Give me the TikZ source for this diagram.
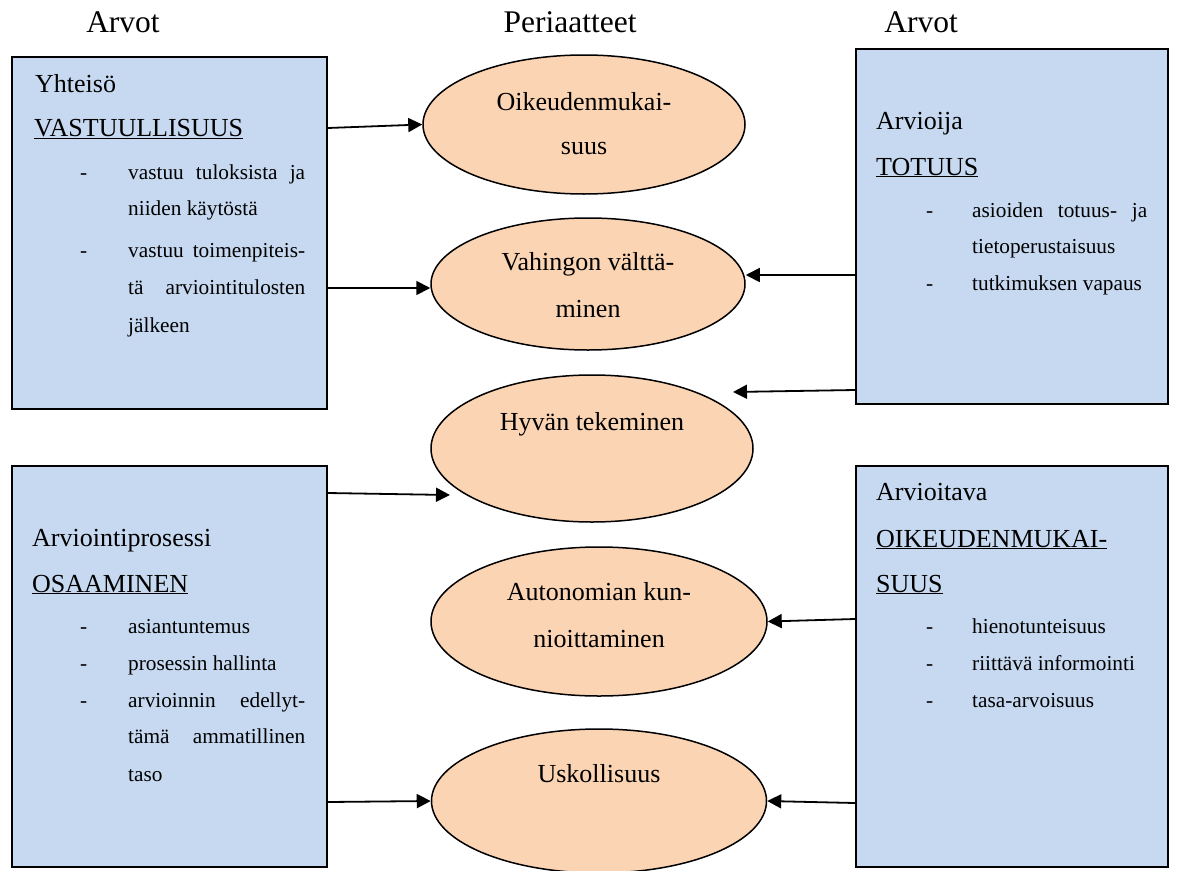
\documentclass[tikz,border=0pt]{standalone}
\usepackage{fontspec}
\setmainfont{Liberation Serif}
\usetikzlibrary{arrows.meta,shapes.geometric}
\definecolor{boxblue}{RGB}{198,217,240}
\definecolor{peach}{RGB}{251,212,180}
\newcommand{\fsz}[1]{\fontsize{#1}{#1}\selectfont}
\begin{document}
\begin{tikzpicture}[x=1pt,y=-1pt,
  vbox/.style={draw=black,line width=1.8pt,fill=boxblue,anchor=north west,inner sep=0pt,rectangle},
  pell/.style={draw=black,line width=1.5pt,fill=peach,ellipse,inner sep=0pt},
  hdr/.style={anchor=base,inner sep=0pt,font=\fsz{31.5}},
  ttl/.style={anchor=base west,inner sep=0pt,font=\fsz{26}},
  itm/.style={anchor=base west,inner sep=0pt,font=\fsz{21.3}},
  etx/.style={anchor=base,inner sep=0pt,font=\fsz{26}},
  arr/.style={line width=1.8pt,-{Triangle[length=14pt,width=14pt]}},
]
\useasboundingbox (0,0) rectangle (1180,870);
\fill[white] (0,0) rectangle (1180,870);

% headers
\node[hdr] (h1) at (123,32) {Arvot};
\node[hdr] (h2) at (570,32) {Periaatteet};
\node[hdr] (h3) at (921,32) {Arvot};

% boxes
\node[vbox,minimum width=315pt,minimum height=352pt] (B1) at (11,56) {};
\node[vbox,minimum width=312pt,minimum height=355pt] (B2) at (855,48) {};
\node[vbox,minimum width=315pt,minimum height=401pt] (B3) at (11,465) {};
\node[vbox,minimum width=312pt,minimum height=401pt] (B4) at (855,465) {};

% ellipses
\node[pell,minimum width=322pt,minimum height=139pt] (E1) at (584,124.5) {};
\node[pell,minimum width=314pt,minimum height=132pt] (E2) at (588,284) {};
\node[pell,minimum width=322pt,minimum height=147pt] (E3) at (592,448.5) {};
\node[pell,minimum width=336pt,minimum height=149pt] (E4) at (599,621.5) {};
\node[pell,minimum width=335pt,minimum height=144pt] (E5) at (599,801) {};

% ellipse texts
\node[etx] (e1a) at (584,110) {Oikeudenmukai-};
\node[etx] (e1b) at (584,154) {suus};
\node[etx] (e2a) at (588,270) {Vahingon välttä-};
\node[etx] (e2b) at (588,317) {minen};
\node[etx] (e3a) at (592,430) {Hyvän tekeminen};
\node[etx] (e4a) at (599,600) {Autonomian kun-};
\node[etx] (e4b) at (599,647) {nioittaminen};
\node[etx] (e5a) at (599,782) {Uskollisuus};

% box 1
\node[ttl] (t1a) at (35,92) {Yhteisö};
\node[ttl] (t1b) at (34,136) {\underline{VASTUULLISUUS}};
\node[itm] (d1a) at (80,179) {-};
\node[itm] (i1a) at (128,179) {\makebox[177pt][s]{vastuu tuloksista ja}};
\node[itm] (i1b) at (128,215) {niiden käytöstä};
\node[itm] (d1b) at (80,257) {-};
\node[itm] (i1c) at (128,257) {\makebox[177pt][s]{vastuu toimenpiteis-}};
\node[itm] (i1d) at (128,294) {\makebox[177pt][s]{tä arviointitulosten}};
\node[itm] (i1e) at (128,332) {jälkeen};

% box 2
\node[ttl] (t2a) at (876,129) {Arvioija};
\node[ttl] (t2b) at (876,175) {\underline{TOTUUS}};
\node[itm] (d2a) at (926,217) {-};
\node[itm] (i2a) at (972,217) {\makebox[175pt][s]{asioiden totuus- ja}};
\node[itm] (i2b) at (972,253) {tietoperustaisuus};
\node[itm] (d2b) at (926,290) {-};
\node[itm] (i2c) at (972,290) {tutkimuksen vapaus};

% box 3
\node[ttl] (t3a) at (32,546) {Arviointiprosessi};
\node[ttl] (t3b) at (32,592) {\underline{OSAAMINEN}};
\node[itm] (d3a) at (80,633) {-};
\node[itm] (i3a) at (128,633) {asiantuntemus};
\node[itm] (d3b) at (80,670) {-};
\node[itm] (i3b) at (128,670) {prosessin hallinta};
\node[itm] (d3c) at (80,707) {-};
\node[itm] (i3c) at (128,707) {\makebox[177pt][s]{arvioinnin edellyt-}};
\node[itm] (i3d) at (128,743) {\makebox[177pt][s]{tämä ammatillinen}};
\node[itm] (i3e) at (128,781) {taso};

% box 4
\node[ttl] (t4a) at (876,500) {Arvioitava};
\node[ttl] (t4b) at (876,547) {\underline{OIKEUDENMUKAI-}};
\node[ttl] (t4c) at (876,592) {\underline{SUUS}};
\node[itm] (d4a) at (926,633) {-};
\node[itm] (i4a) at (972,633) {hienotunteisuus};
\node[itm] (d4b) at (926,670) {-};
\node[itm] (i4b) at (972,670) {riittävä informointi};
\node[itm] (d4c) at (926,707) {-};
\node[itm] (i4c) at (972,707) {tasa-arvoisuus};

% arrow levels and free ends
\coordinate (yA) at (0,128);
\coordinate (yB) at (0,288);
\coordinate (yC) at (0,493);
\coordinate (yD) at (0,802);
\coordinate (yE) at (0,275);
\coordinate (yF) at (0,390);
\coordinate (yG) at (0,619);
\coordinate (yH) at (0,803);
\coordinate (fC) at (450,495);
\coordinate (fF) at (733,392);

\draw[arr] (B1.east |- yA) -- (E1.west);
\draw[arr] (B1.east |- yB) -- (E2.west |- yB);
\draw[arr] (B3.east |- yC) -- (fC);
\draw[arr] (B3.east |- yD) -- (E5.west);
\draw[arr] (B2.west |- yE) -- (E2.east |- yE);
\draw[arr] (B2.west |- yF) -- (fF);
\draw[arr] (B4.west |- yG) -- (E4.east);
\draw[arr] (B4.west |- yH) -- (E5.east);
\end{tikzpicture}
\end{document}
